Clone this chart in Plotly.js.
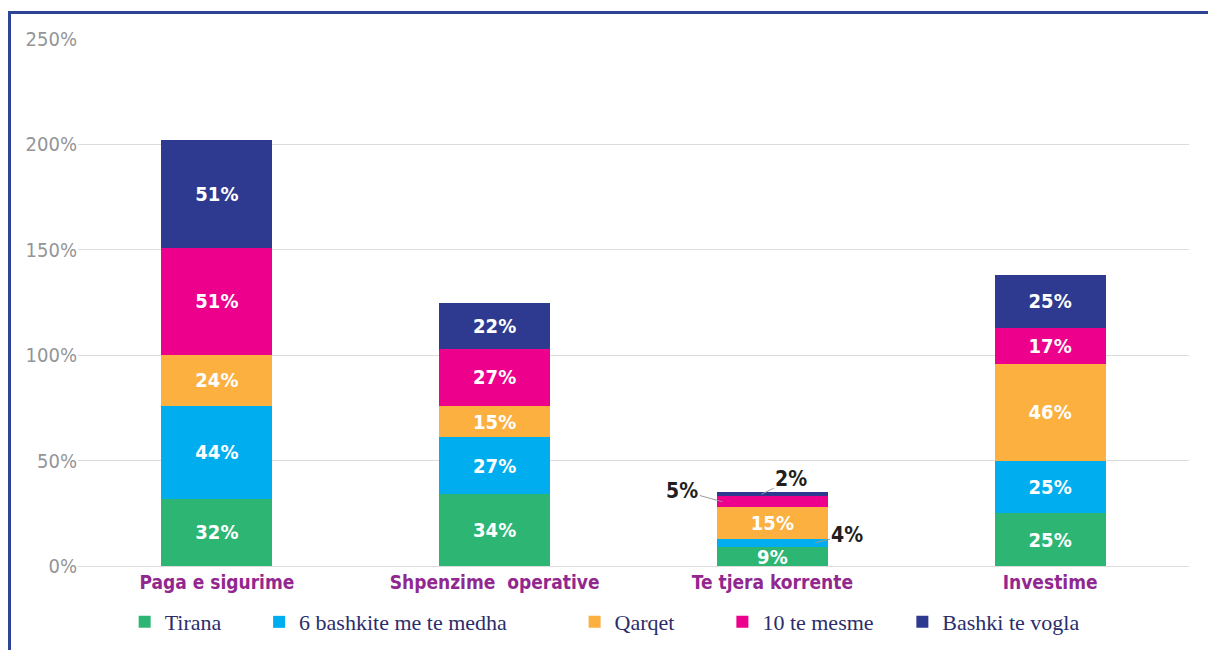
<!DOCTYPE html>
<html>
<head>
<meta charset="utf-8">
<script src="https://cdn.plot.ly/plotly-3.0.1.min.js"></script>
<style>
  html, body { margin: 0; padding: 0; background: #fff; }
  #wrap { position: relative; width: 1208px; height: 650px; }
  #chart { position: absolute; left: 0; top: 0; width: 1208px; height: 650px; }
  #frame { position: absolute; left: 8px; top: 11px; width: 1200px; height: 639px;
           border-top: 3px solid #2e4596; border-left: 3px solid #2e4596;
           box-sizing: border-box; pointer-events: none; }
</style>
</head>
<body>
<div id="wrap">
  <div id="chart"></div>
  <div id="frame"></div>
</div>
<script>
// categories and series (shares in %)
const categories = ['Paga e sigurime', 'Shpenzime  operative', 'Te tjera korrente', 'Investime'];
const seriesNames = ['Tirana', '6 bashkite me te medha', 'Qarqet', '10 te mesme', 'Bashki te vogla'];
const tirana = [32, 34, 9, 25];
const bashkiteMedha = [44, 27, 4, 25];
const qarqet = [24, 15, 15, 46];
const teMesme = [51, 27, 5, 17];
const bashkiVogla = [51, 22, 2, 25];
const yTicks = [0, 50, 100, 150, 200, 250];
const yTickText = ['0%', '50%', '100%', '150%', '200%', '250%'];

const colors = ['#2db673', '#00aeef', '#fbb040', '#ec008c', '#2e3a8f'];
const allSeries = [tirana, bashkiteMedha, qarqet, teMesme, bashkiVogla];
const legendX = [0.042, 0.163, 0.447, 0.58, 0.742];

const condensed = '"DejaVu Sans Condensed", "Liberation Sans Narrow", Arial, sans-serif';

// small segments in the third bar get outside callouts instead of inside labels
const smallIdx = 2;
const traces = allSeries.map((vals, i) => ({
  type: 'bar',
  name: seriesNames[i],
  x: categories,
  y: vals,
  marker: { color: colors[i], line: { width: 0 } },
  text: vals.map((v, j) => (j === smallIdx && v < 6) ? '' : v + '%'),
  textposition: 'inside',
  insidetextanchor: 'middle',
  constraintext: 'none',
  textfont: { family: condensed, size: 20, color: '#ffffff', weight: 'bold' },
  hoverinfo: 'skip',
  legend: i === 0 ? 'legend' : 'legend' + (i + 1)
}));

// cumulative midpoints for callouts
function mid(seriesIdx) {
  let base = 0;
  for (let k = 0; k < seriesIdx; k++) base += allSeries[k][smallIdx];
  return base + allSeries[seriesIdx][smallIdx] / 2;
}
const calloutFont = { family: condensed, size: 21, color: '#231f20', weight: 'bold' };
const callouts = [
  { s: 1, xshift: 43, ax: 32, ay: -8 },
  { s: 3, xshift: -50, ax: -40, ay: -11 },
  { s: 4, xshift: -11, ax: 30, ay: -15 }
].map(c => ({
  x: categories[smallIdx],
  y: mid(c.s),
  xref: 'x', yref: 'y',
  text: allSeries[c.s][smallIdx] + '%',
  showarrow: true,
  arrowhead: 0,
  arrowwidth: 1,
  arrowcolor: '#9a9a9a',
  ax: c.ax, ay: c.ay,
  xshift: c.xshift,
  font: calloutFont
}));

const legendBase = {
  orientation: 'h',
  yref: 'container',
  y: 0.043,
  yanchor: 'middle',
  xanchor: 'left',
  bgcolor: 'rgba(0,0,0,0)',
  font: { family: '"Liberation Serif", "DejaVu Serif", serif', size: 22, color: '#2b2d6b' },
  itemwidth: 30,
  itemclick: false
};

const layout = {
  width: 1208,
  height: 650,
  margin: { l: 78, r: 19, t: 39, b: 84, autoexpand: false },
  paper_bgcolor: '#ffffff',
  plot_bgcolor: '#ffffff',
  barmode: 'stack',
  bargap: 0.6,
  showlegend: true,
  xaxis: {
    type: 'category',
    automargin: false,
    showgrid: false,
    showline: false,
    ticks: '',
    ticklabelstandoff: 3,
    tickfont: { family: condensed, size: 19, color: '#92278f', weight: 'bold' },
    fixedrange: true
  },
  yaxis: {
    range: [0, 250],
    automargin: false,
    tickmode: 'array',
    tickvals: yTicks,
    ticktext: yTickText,
    showgrid: true,
    gridcolor: '#dcdcdc',
    gridwidth: 1,
    zeroline: true,
    zerolinecolor: '#dcdcdc',
    zerolinewidth: 1,
    showline: false,
    ticks: '',
    tickfont: { family: condensed, size: 20, color: '#939598' },
    fixedrange: true
  },
  annotations: callouts
};
legendX.forEach((lx, i) => {
  layout[i === 0 ? 'legend' : 'legend' + (i + 1)] = Object.assign({}, legendBase, { x: lx });
});

Plotly.newPlot('chart', traces, layout, { displayModeBar: false, responsive: false });
</script>
</body>
</html>
